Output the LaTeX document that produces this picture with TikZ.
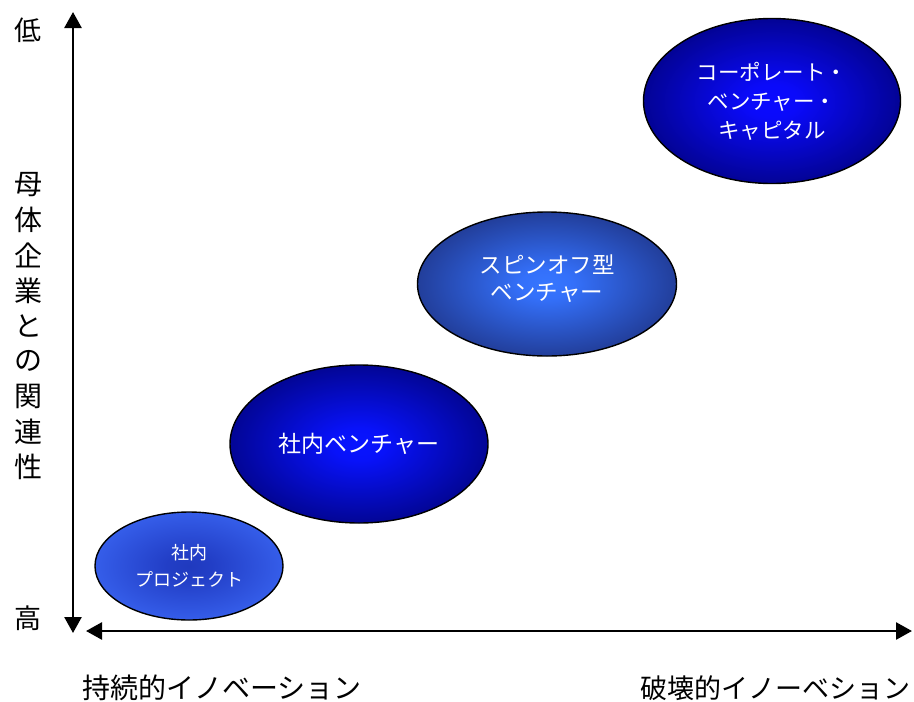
\documentclass[tikz,border=0pt]{standalone}
\usepackage{fontspec}
\setmainfont{Noto Sans CJK JP}
\usetikzlibrary{shapes.geometric,arrows.meta}
\pgfdeclareradialshading{pjshade}{\pgfpoint{0bp}{0bp}}{%
  color(0bp)=(rgb,255:red,32;green,58;blue,190); color(6bp)=(rgb,255:red,34;green,62;blue,198);
  color(34bp)=(rgb,255:red,62;green,108;blue,250); color(50bp)=(rgb,255:red,62;green,108;blue,250)}
\pgfdeclareradialshading{svshade}{\pgfpoint{0bp}{0bp}}{%
  color(0bp)=(rgb,255:red,8;green,20;blue,255); color(5bp)=(rgb,255:red,8;green,18;blue,250);
  color(34bp)=(rgb,255:red,0;green,0;blue,104); color(50bp)=(rgb,255:red,0;green,0;blue,104)}
\pgfdeclareradialshading{soshade}{\pgfpoint{0bp}{0bp}}{%
  color(0bp)=(rgb,255:red,54;green,118;blue,255); color(5bp)=(rgb,255:red,52;green,112;blue,250);
  color(34bp)=(rgb,255:red,26;green,40;blue,112); color(50bp)=(rgb,255:red,26;green,40;blue,112)}
\pgfdeclareradialshading{cvshade}{\pgfpoint{0bp}{0bp}}{%
  color(0bp)=(rgb,255:red,10;green,10;blue,255); color(5bp)=(rgb,255:red,10;green,10;blue,250);
  color(34bp)=(rgb,255:red,0;green,0;blue,104); color(50bp)=(rgb,255:red,0;green,0;blue,104)}
\tikzset{
  blob/.style={ellipse, draw=black, line width=1.4pt, inner sep=0pt,
    text=white, align=center},
  blobtext/.style={text=white, align=center, inner sep=0pt},
  axisline/.style={line width=2.6pt, -{Triangle[width=17pt,length=16pt]}},
  lab/.style={font=\fontsize{27}{30}\selectfont, inner sep=0pt}
}
\begin{document}
\begin{tikzpicture}[x=1pt,y=-1pt]
\useasboundingbox (0,0) rectangle (914,702);
% axes
\coordinate (o) at (73,600);
\coordinate (top) at (73,12);
\coordinate (bot) at (73,633);
\coordinate (left) at (86,631);
\coordinate (right) at (912,631);
\coordinate (r0) at (880,631);
\draw[axisline] (o) -- (top);
\draw[axisline] (o) -- (bot);
\draw[axisline] (r0) -- (right);
\draw[axisline] (r0) -- (left);
% ellipses
\node[blob, shading=pjshade, minimum width=188pt, minimum height=108pt,
  font=\fontsize{18}{27}\selectfont] (p1) at (189,566) {社内\\プロジェクト};
\node[blob, shading=svshade, minimum width=258pt, minimum height=158pt,
  font=\fontsize{23}{27}\selectfont] (p2) at (359,444) {社内ベンチャー};
\node[blob, shading=soshade, minimum width=259pt, minimum height=144pt] (p3) at (547,284) {};
\node[blobtext, font=\fontsize{22.5}{27}\selectfont] (p3t) at (547,279) {スピンオフ型\\ベンチャー};
\node[blob, shading=cvshade, minimum width=257pt, minimum height=165pt,
  font=\fontsize{21.5}{29}\selectfont] (p4) at (772,101) {コーポレート・\\ベンチャー・\\キャピタル};
% labels
\node[lab] (low) at (28,30) {低};
\node[lab] (high) at (28,618) {高};
\foreach \c [count=\i from 0] in {母,体,企,業,と,の,関,連,性}{
  \node[lab, font=\fontsize{28}{30}\selectfont] (v\i) at (29,{185+35.25*\i}) {\c};
}
\node[lab, anchor=west, font=\fontsize{28}{30}\selectfont] (sus) at (82,688) {持続的イノベーション};
\node[lab, anchor=east] (dis) at (911,688) {破壊的イノーベション};
\end{tikzpicture}
\end{document}
